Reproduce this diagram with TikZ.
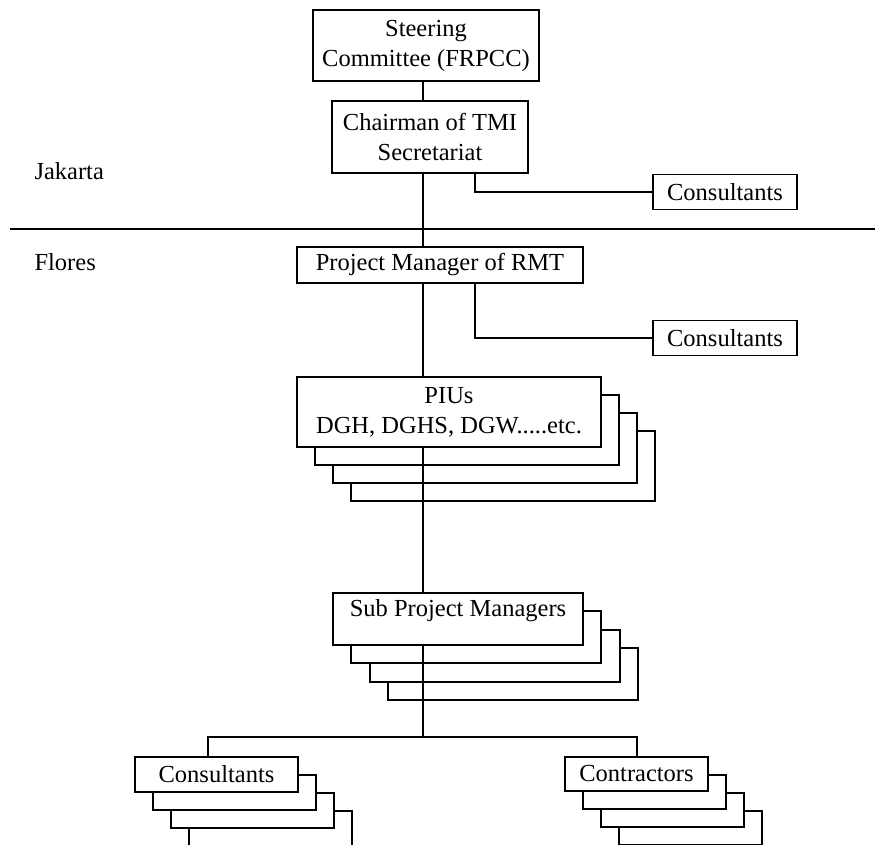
\documentclass[tikz,border=0pt]{standalone}
\usepackage{fontspec}
\setmainfont{Liberation Serif}
\usetikzlibrary{calc}
\begin{document}
\begin{tikzpicture}[x=1pt,y=-1pt,
  every node/.style={font=\fontsize{24.5}{30}\selectfont},
  box/.style={draw, line width=1.5pt, fill=white, inner sep=0pt, align=center},
  link/.style={line width=1.5pt},
  piubox/.style={box, minimum width=304pt, minimum height=70pt},
  spmbox/.style={box, minimum width=250pt, minimum height=52pt},
  lcbox/.style={box, minimum width=163pt, minimum height=35pt},
  rcbox/.style={box, minimum width=143pt, minimum height=34pt},
  conbox/.style={box, minimum width=144pt, minimum height=35pt}]
\useasboundingbox (0,0) rectangle (875,845);
\clip (0,0) rectangle (875,845);

% coordinates of vertical connector lines
\coordinate (tx) at (423,0);
\coordinate (cx) at (475,0);
\coordinate (lx) at (208,0);
\coordinate (rx) at (637,0);
\coordinate (jn) at (423,737);

% region labels and divider
\node[anchor=base west] (jak) at (31,180) {Jakarta};
\node[anchor=base west] (flo) at (31,270) {Flores};
\coordinate (dl) at (10,229);
\coordinate (dr) at (875,229);
\draw[link] (dl) -- (dr);

% top boxes
\node[box, minimum width=226pt, minimum height=71pt] (steer) at (426,45.5) {Steering\\Committee (FRPCC)};
\node[box, minimum width=196pt, minimum height=72pt] (chair) at (430,137) {Chairman of TMI\\Secretariat};
\node[conbox] (cons1) at (725,192) {Consultants};
\node[box, minimum width=286pt, minimum height=36pt] (pm) at (440,265) {Project Manager of RMT};
\node[conbox] (cons2) at (725,338) {Consultants};

% PIUs stack
\coordinate (piuc) at (449,412);
\node[piubox] (piu3) at ($(piuc)+(54,54)$) {};
\node[piubox] (piu2) at ($(piuc)+(36,36)$) {};
\node[piubox] (piu1) at ($(piuc)+(18,18)$) {};
\node[piubox] (piu) at (piuc) {PIUs\\DGH, DGHS, DGW.....etc.};

% Sub project managers stack
\coordinate (spmc) at (458,619);
\node[spmbox] (spm3) at ($(spmc)+(55,55)$) {};
\node[spmbox] (spm2) at ($(spmc)+(37,37)$) {};
\node[spmbox] (spm1) at ($(spmc)+(18,18)$) {};
\node[spmbox] (spm) at (spmc) {};
\node[anchor=base] (spmtext) at (458,616) {Sub Project Managers};

% Consultants stack (left)
\coordinate (lcc) at (216.5,774.5);
\node[lcbox] (lc3) at ($(lcc)+(54,54)$) {};
\node[lcbox] (lc2) at ($(lcc)+(36,36)$) {};
\node[lcbox] (lc1) at ($(lcc)+(18,18)$) {};
\node[lcbox] (lc) at (lcc) {Consultants};

% Contractors stack (right)
\coordinate (rcc) at (636.5,774);
\node[rcbox] (rc3) at ($(rcc)+(54,54)$) {};
\node[rcbox] (rc2) at ($(rcc)+(36,36)$) {};
\node[rcbox] (rc1) at ($(rcc)+(18,18)$) {};
\node[rcbox] (rc) at (rcc) {Contractors};

% connectors
\draw[link] (steer.south -| tx) -- (chair.north -| tx);
\draw[link] (chair.south -| tx) -- (pm.north -| tx);
\draw[link] (chair.south -| cx) |- (cons1.west);
\draw[link] (pm.south -| tx) -- (piu.north -| tx);
\draw[link] (pm.south -| cx) |- (cons2.west);
\draw[link] (piu.south -| tx) -- (spm.north -| tx);
\draw[link] (spm.south -| tx) -- (jn);
\draw[link] (lc.north -| lx) -- (lx |- jn) -- (rx |- jn) -- (rc.north -| rx);
\end{tikzpicture}
\end{document}
